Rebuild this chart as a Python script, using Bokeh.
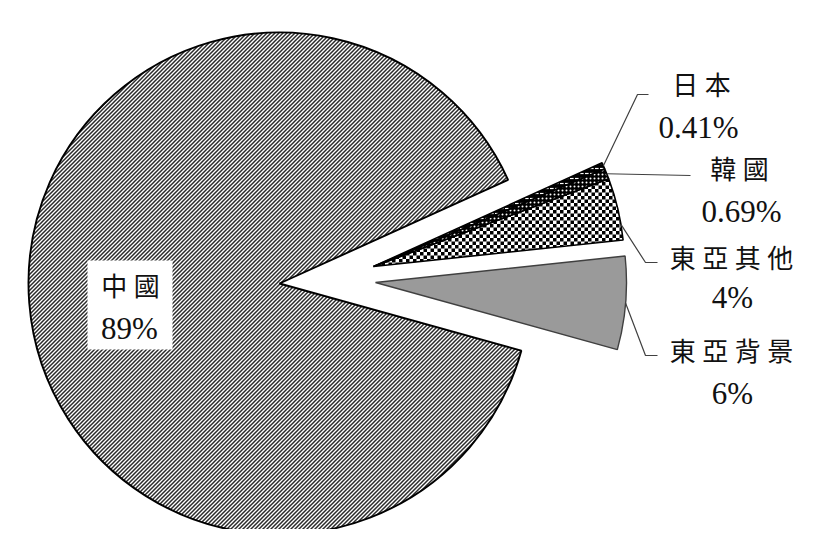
import base64
import numpy as np
from bokeh.plotting import figure
from bokeh.models import Range1d, ColumnDataSource, ImageURLTexture
from bokeh.core.properties import value
from bokeh.embed import file_html
from bokeh.resources import INLINE

# ---- data ----
names = ["中國", "東亞背景", "東亞其他", "韓國", "日本"]
pct_labels = ["89%", "6%", "4%", "0.69%", "0.41%"]
values = [89, 6, 4, 0.69, 0.41]

# ---- layout helpers (screen px -> data units; 1 unit = 1 px) ----
W, H = 813, 529


def X(sx):
    return sx


def Y(sy):
    return H - sy


p = figure(width=W, height=H, output_backend="svg", toolbar_location=None,
           x_range=Range1d(0, W), y_range=Range1d(0, H),
           x_axis_location=None, y_axis_location=None, min_border=0,
           outline_line_color=None, background_fill_color="white")
p.grid.visible = False

# pie geometry
cx, cy = X(279), Y(283)
R = 251
start0 = 24.4  # degrees, where the first slice (中國) begins
explode = [(0, 0), (96, 1), (94, 17), (94, 17), (94, 17)]

vals = np.array(values, dtype=float)
spans = vals / vals.sum() * 360.0
starts = start0 + np.concatenate([[0], np.cumsum(spans)[:-1]])
ends = starts + spans

xs = [cx + e[0] for e in explode]
ys = [cy + e[1] for e in explode]


def svg_url(svg):
    return "data:image/svg+xml;base64," + base64.b64encode(svg.encode()).decode()


checker_url = svg_url(
    "<svg xmlns='http://www.w3.org/2000/svg' width='7' height='7'>"
    "<rect width='7' height='7' fill='white'/>"
    "<rect width='3.5' height='3.5' fill='black'/>"
    "<rect x='3.5' y='3.5' width='3.5' height='3.5' fill='black'/></svg>")
stripe_url = svg_url(
    "<svg xmlns='http://www.w3.org/2000/svg' width='4' height='4'>"
    "<rect width='4' height='4' fill='white'/>"
    "<path d='M-1,1 L1,-1 M0,4 L4,0 M3,5 L5,3' stroke='#2a2a2a' "
    "stroke-width='1.5'/></svg>")

src = ColumnDataSource(dict(
    x=xs, y=ys, start=starts, end=ends,
    fill=["white", "#9a9a9a", "white", "black", "black"],
    line=["black", "#404040", "black", "black", "black"],
    lw=[1.9, 1.4, 1.6, 1.6, 1.6],
    hatch=["stripes", " ", "checker", "dot", "horizontal_dash"],
    hcolor=["#333333", "white", "black", "white", "white"],
    hscale=[4, 4, 7, 4, 5],
    hweight=[1, 1, 1, 1.2, 1.2],
))
p.wedge(x="x", y="y", radius=R, start_angle="start", end_angle="end",
        start_angle_units="deg", end_angle_units="deg",
        fill_color="fill", line_color="line", line_width="lw",
        hatch_pattern="hatch", hatch_color="hcolor", hatch_scale="hscale",
        hatch_weight="hweight",
        hatch_extra={"checker": ImageURLTexture(url=checker_url),
                     "stripes": ImageURLTexture(url=stripe_url)},
        source=src)

# ---- leader lines (slices 1..4) ----
attach_frac = [None, 0.5, 0.25, 0.5, 0.5]
leader_pts = [None,
              [(645, 355), (657, 355)],
              [(645, 262), (657, 262)],
              [(690, 175)],
              [(637, 94), (648, 94)]]
lx, ly = [], []
for i in range(1, 5):
    a = np.deg2rad(starts[i] + attach_frac[i] * spans[i])
    sx0 = xs[i] + R * np.cos(a)
    sy0 = ys[i] + R * np.sin(a)
    px = [sx0] + [X(pt[0]) for pt in leader_pts[i]]
    py = [sy0] + [Y(pt[1]) for pt in leader_pts[i]]
    lx.append(px)
    ly.append(py)
p.multi_line(xs=lx, ys=ly, line_color="#404040", line_width=1.2)

# ---- label box for 中國 ----
p.quad(left=[X(87)], right=[X(172)], top=[Y(260)], bottom=[Y(349)],
       fill_color="white", line_color=None)

# ---- texts ----
name_pos = [(130, 287), (731, 352), (731, 259), (739, 170), (701, 86)]
pct_pos = [(129, 328), (732, 393), (732, 297), (741, 211), (698, 127)]

spaced = [" ".join(list(n)) for n in names]
font = value("'Liberation Serif', 'Noto Sans CJK TC'")
p.text(x=[X(q[0]) for q in name_pos], y=[Y(q[1]) for q in name_pos], text=spaced,
       text_font=font, text_font_size="26px", text_color="#111111",
       text_align="center", text_baseline="middle")
p.text(x=[X(q[0]) for q in pct_pos], y=[Y(q[1]) for q in pct_pos], text=pct_labels,
       text_font=font, text_font_size="31px", text_color="#111111",
       text_align="center", text_baseline="middle")

open("out.html", "w").write(file_html(p, INLINE))
